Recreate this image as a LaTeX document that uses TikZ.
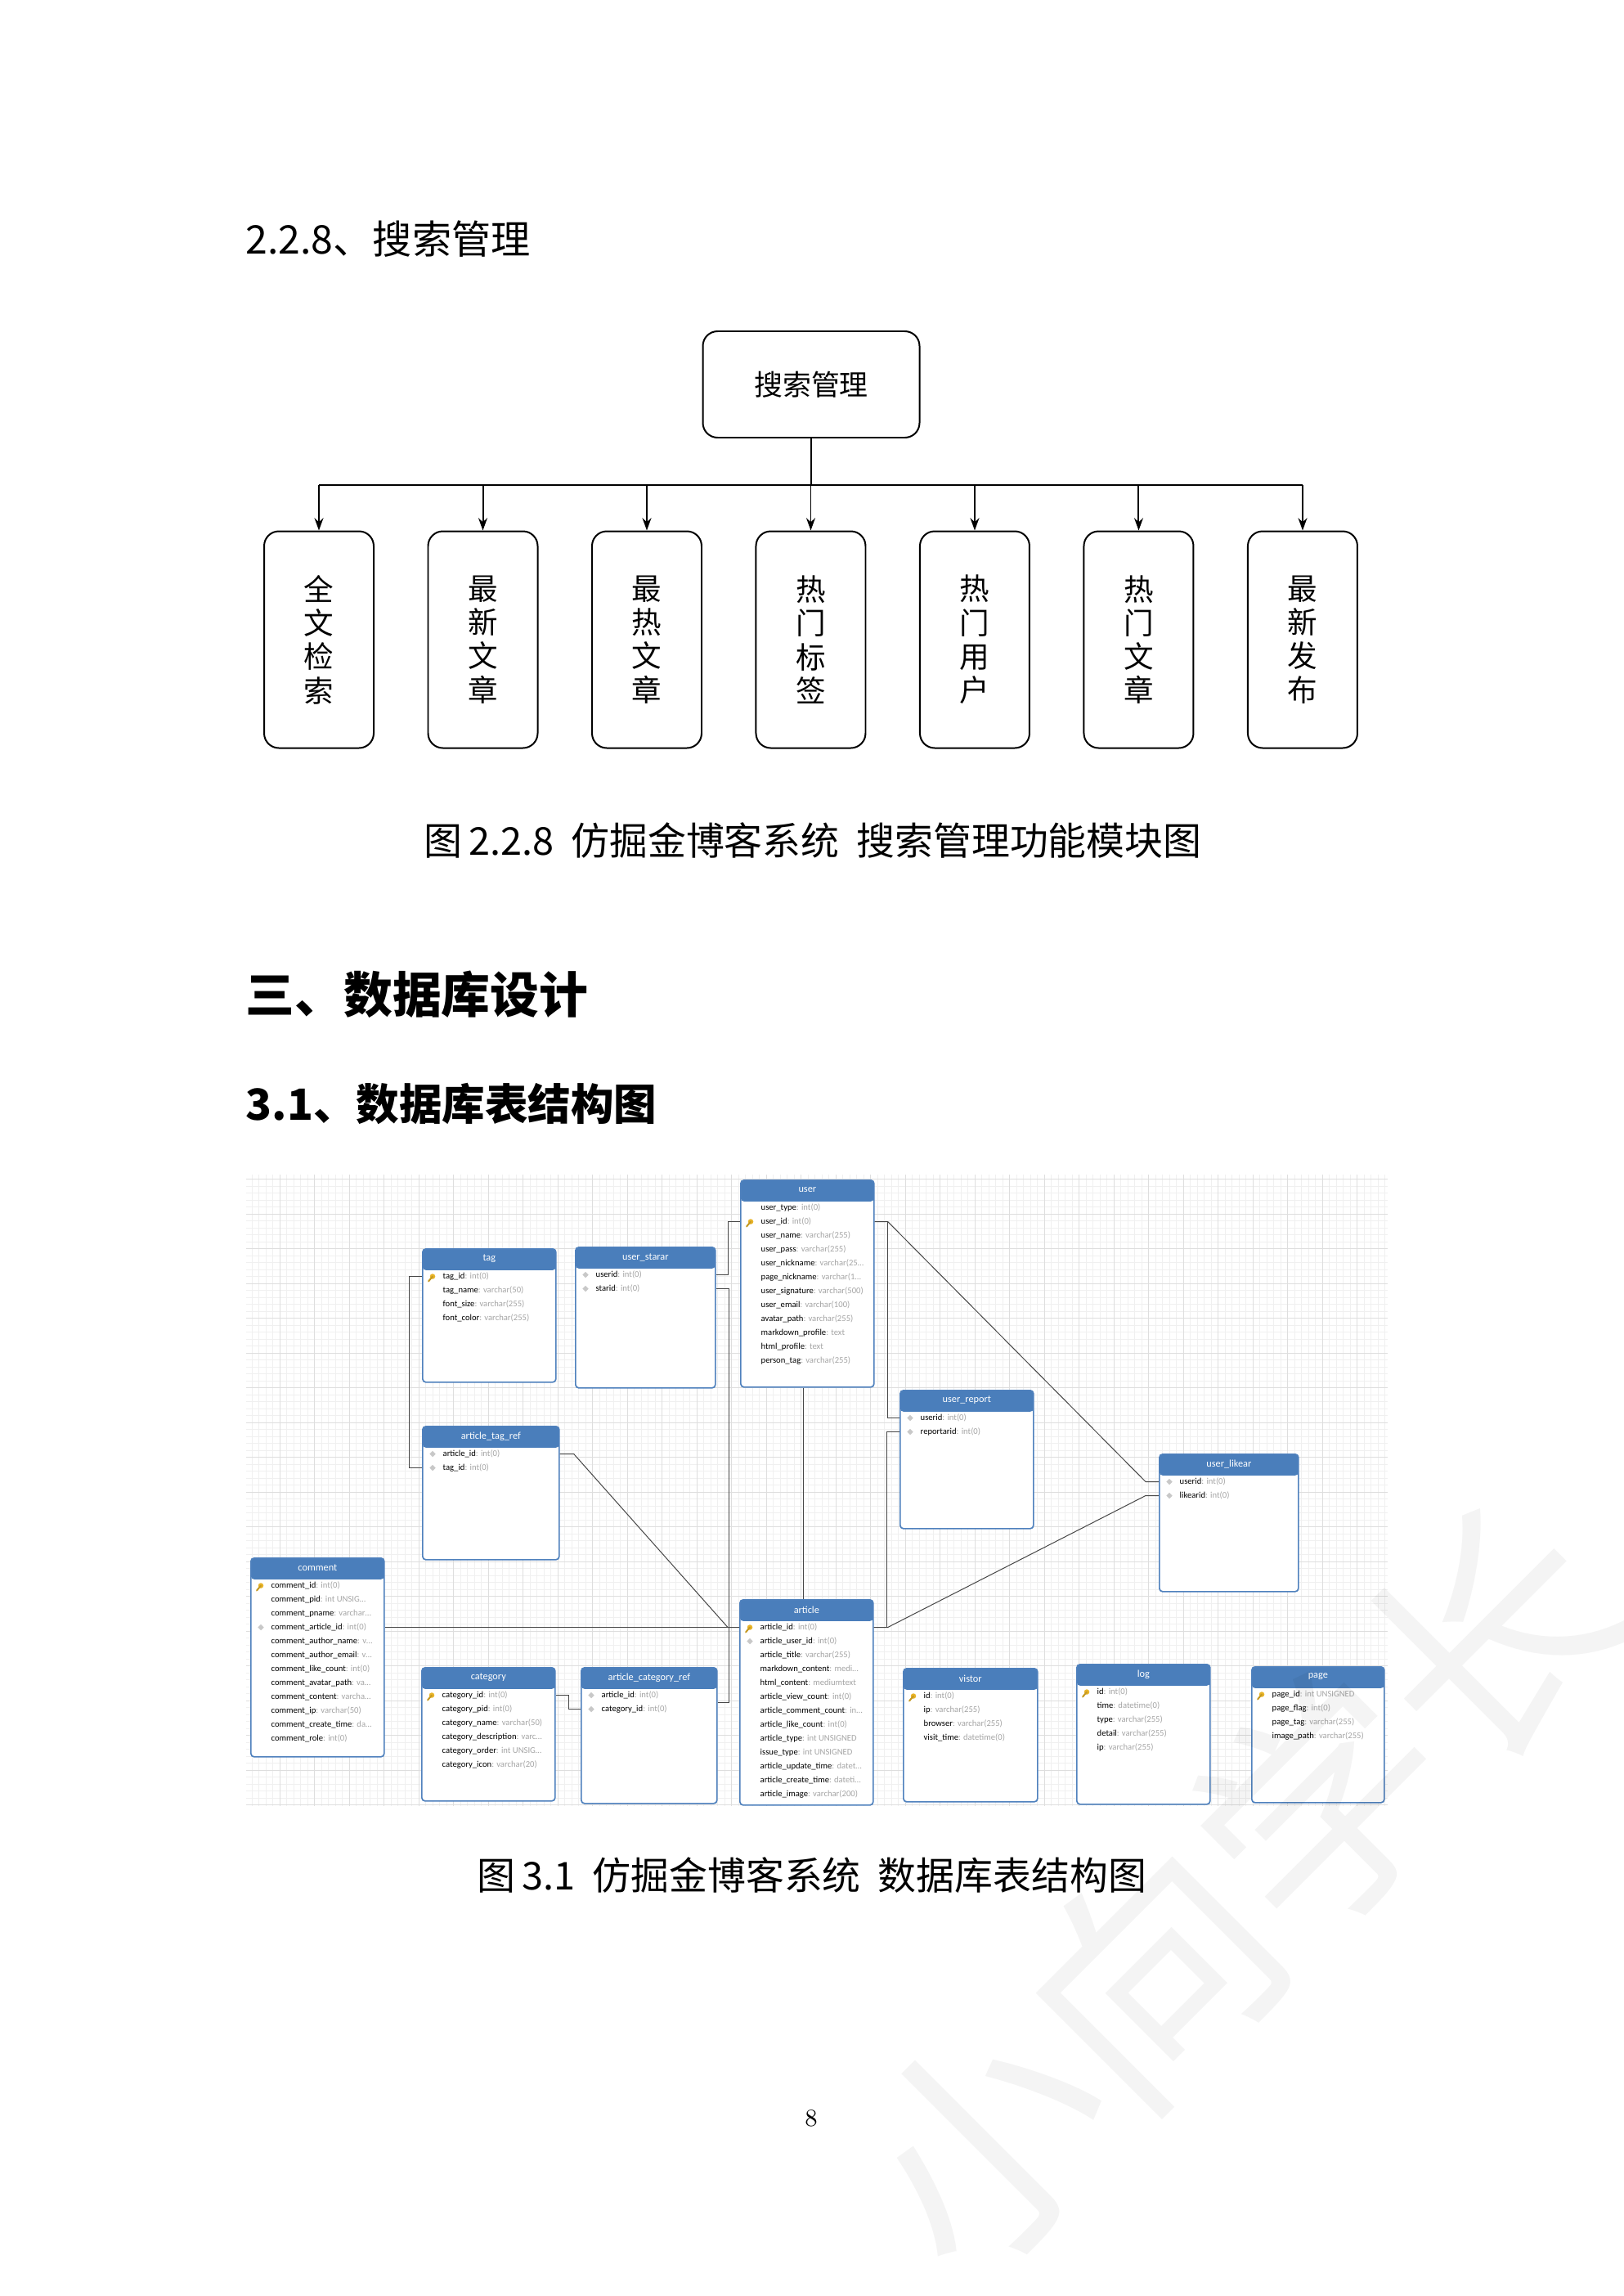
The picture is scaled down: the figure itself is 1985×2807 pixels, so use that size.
\documentclass[tikz,border=0pt]{standalone}
\usepackage{fontspec}
\newfontfamily\cjk{Noto Sans CJK SC}
\newfontfamily\tblfont{Carlito}
\usetikzlibrary{positioning}
\usetikzlibrary{arrows.meta}
\usetikzlibrary{shapes.geometric}
\usetikzlibrary{calc}
\newlength{\pxu}
\setlength{\pxu}{0.010579cm}
\definecolor{headblue}{RGB}{74,126,187}
\definecolor{tblblue}{RGB}{79,129,189}
\definecolor{typegray}{RGB}{165,165,165}
\definecolor{keygold}{RGB}{232,180,40}
\definecolor{diagray}{RGB}{200,200,200}
\definecolor{gridgray}{RGB}{222,222,222}
\definecolor{finegray}{RGB}{240,240,240}
\definecolor{relgray}{RGB}{70,70,70}
\newcommand{\ftype}[1]{\textcolor{typegray}{#1}}
\tikzset{
heading/.style={inner sep=0pt, anchor=west, font=\cjk\fontsize{14.5}{16}\selectfont},
heading_big/.style={inner sep=0pt, anchor=west, font=\cjk\bfseries\fontsize{18}{20}\selectfont},
heading_mid/.style={inner sep=0pt, anchor=west, font=\cjk\bfseries\fontsize{15.8}{18}\selectfont},
caption/.style={inner sep=0pt, font=\cjk\fontsize{14.1}{15}\selectfont},
root_box/.style={rectangle, rounded corners=18\pxu, draw, line width=0.6pt, minimum width=265\pxu, minimum height=130\pxu, font=\cjk\fontsize{10.5}{12}\selectfont},
leaf_box/.style={rectangle, rounded corners=18\pxu, draw, line width=0.6pt, minimum width=134\pxu, minimum height=265\pxu, align=center, inner sep=0pt, font=\cjk\fontsize{11}{12.4}\selectfont},
branch/.style={line width=0.6pt},
branch_arrow/.style={line width=0.6pt, -{Stealth[length=1.6mm, width=1.15mm]}},
table_box/.style={rectangle, anchor=north west, draw=tblblue, fill=white, line width=0.5pt, rounded corners=4\pxu, inner sep=0pt,
  path picture={\fill[headblue] (path picture bounding box.north west) rectangle ([yshift=-26\pxu]path picture bounding box.north east);}},
table_title/.style={text=white, inner sep=0pt, font=\tblfont\fontsize{3.7}{4.4}\selectfont},
row_text/.style={anchor=west, inner sep=0pt, font=\tblfont\fontsize{3.2}{3.8}\selectfont},
key_stem/.style={draw=keygold!85!black, line width=0.6pt, line cap=round},
ikey/.style={circle, fill=keygold, inner sep=0pt, minimum size=6.5\pxu,
  append after command={(\tikzlastnode.center) edge[key_stem] ([shift={(-5\pxu,-6\pxu)}]\tikzlastnode.center)}},
idia/.style={diamond, fill=diagray, inner sep=0pt, minimum size=8\pxu},
inone/.style={inner sep=0pt, minimum size=0pt},
rel/.style={draw=relgray, line width=0.3pt},
fine_grid/.style={draw=finegray, line width=0.2pt},
major_grid/.style={draw=gridgray, line width=0.3pt},
watermark/.style={font=\cjk\fontsize{88}{90}\selectfont, opacity=0.045, rotate=45}
}
% one table: id, left, top, width, height, title, rows (icon/field/type)
\newcommand{\dbtable}[7]{%
  \node[table_box, minimum width=#4\pxu, minimum height=#5\pxu] (#1) at (#2,#3) {};
  \node[table_title] (#1-t) at ([yshift=-13\pxu]#1.north) {#6};
  \foreach \ic/\fn/\ty [count=\i] in {#7} {
    \node[\ic] (#1-i\i) at ([xshift=13\pxu, yshift={-(34.5+17*(\i-1))*\pxu}]#1.north west) {};
    \node[row_text] (#1-\i) at ([xshift=25\pxu, yshift={-(34.5+17*(\i-1))*\pxu}]#1.north west) {\fn\ftype{: \ty}};
  }
}
\begin{document}
\begin{tikzpicture}[x=\pxu, y=-\pxu]
\useasboundingbox (0,0) rectangle (1985,2807);
\fill[white] (0,0) rectangle (1985,2807);

\node[heading] (h_228) at (300,292) {2.2.8、搜索管理};

% search module tree
\node[root_box] (search) at (992,470) {搜索管理};
\node[leaf_box] (leaf_1) at (390,782) {全\\文\\检\\索};
\node[leaf_box, right=64.5\pxu of leaf_1] (leaf_2) {最\\新\\文\\章};
\node[leaf_box, right=64.5\pxu of leaf_2] (leaf_3) {最\\热\\文\\章};
\node[leaf_box, right=64.5\pxu of leaf_3] (leaf_4) {热\\门\\标\\签};
\node[leaf_box, right=64.5\pxu of leaf_4] (leaf_5) {热\\门\\用\\户};
\node[leaf_box, right=64.5\pxu of leaf_5] (leaf_6) {热\\门\\文\\章};
\node[leaf_box, right=64.5\pxu of leaf_6] (leaf_7) {最\\新\\发\\布};
\coordinate (bus) at (992,593);
\draw[branch] (search.south) -- (bus);
\draw[branch] (leaf_1 |- bus) -- (leaf_7 |- bus);
\foreach \n in {1,...,7}
  \draw[branch_arrow] (leaf_\n |- bus) -- (leaf_\n.north);

\node[caption] (cap_1) at (994,1028) {图\,2.2.8\hspace{0.45em}仿掘金博客系统\hspace{0.45em}搜索管理功能模块图};

\node[heading_big] (h_3) at (300,1216) {三、数据库设计};
\node[heading_mid] (h_31) at (300,1350) {3.1、数据库表结构图};

% grid background of the table diagram
\foreach \gx in {308,316.5,...,1697} \draw[fine_grid] (\gx,1436) -- (\gx,2208);
\foreach \gy in {1441.5,1450,...,2208} \draw[fine_grid] (301,\gy) -- (1697,\gy);
\foreach \gx in {342,384.5,...,1697} \draw[major_grid] (\gx,1436) -- (\gx,2208);
\foreach \gy in {1441.5,1484,...,2208} \draw[major_grid] (301,\gy) -- (1697,\gy);

% tables
\dbtable{user}{905}{1442}{163}{253}{user}{inone/user\_type/int(0), ikey/user\_id/int(0), inone/user\_name/varchar(255), inone/user\_pass/varchar(255), inone/user\_nickname/varchar(25\dots, inone/page\_nickname/varchar(1\dots, inone/user\_signature/varchar(500), inone/user\_email/varchar(100), inone/avatar\_path/varchar(255), inone/markdown\_profile/text, inone/html\_profile/text, inone/person\_tag/varchar(255)}
\dbtable{tag}{516}{1526}{163}{163}{tag}{ikey/tag\_id/int(0), inone/tag\_name/varchar(50), inone/font\_size/varchar(255), inone/font\_color/varchar(255)}
\dbtable{us}{703}{1524}{171}{172}{user\_starar}{idia/userid/int(0), idia/starid/int(0)}
\dbtable{atr}{516}{1743}{167}{163}{article\_tag\_ref}{idia/article\_id/int(0), idia/tag\_id/int(0)}
\dbtable{ur}{1100}{1699}{163}{169}{user\_report}{idia/userid/int(0), idia/reportarid/int(0)}
\dbtable{ul}{1417}{1777}{170}{168}{user\_likear}{idia/userid/int(0), idia/likearid/int(0)}
\dbtable{comment}{306}{1904}{163}{243}{comment}{ikey/comment\_id/int(0), inone/comment\_pid/int UNSIG\dots, inone/comment\_pname/varchar\dots, idia/comment\_article\_id/int(0), inone/comment\_author\_name/v\dots, inone/comment\_author\_email/v\dots, inone/comment\_like\_count/int(0), inone/comment\_avatar\_path/va\dots, inone/comment\_content/varcha\dots, inone/comment\_ip/varchar(50), inone/comment\_create\_time/da\dots, inone/comment\_role/int(0)}
\dbtable{cat}{515}{2038}{163}{163}{category}{ikey/category\_id/int(0), inone/category\_pid/int(0), inone/category\_name/varchar(50), inone/category\_description/varc\dots, inone/category\_order/int UNSIG\dots, inone/category\_icon/varchar(20)}
\dbtable{acr}{710}{2038}{166}{166}{article\_category\_ref}{idia/article\_id/int(0), idia/category\_id/int(0)}
\dbtable{article}{904}{1955}{163}{251}{article}{ikey/article\_id/int(0), idia/article\_user\_id/int(0), inone/article\_title/varchar(255), inone/markdown\_content/medi\dots, inone/html\_content/mediumtext, inone/article\_view\_count/int(0), inone/article\_comment\_count/in\dots, inone/article\_like\_count/int(0), inone/article\_type/int UNSIGNED, inone/issue\_type/int UNSIGNED, inone/article\_update\_time/datet\dots, inone/article\_create\_time/dateti\dots, inone/article\_image/varchar(200)}
\dbtable{vis}{1104}{2039}{164}{163}{vistor}{ikey/id/int(0), inone/ip/varchar(255), inone/browser/varchar(255), inone/visit\_time/datetime(0)}
\dbtable{log}{1316}{2034}{163}{171}{log}{ikey/id/int(0), inone/time/datetime(0), inone/type/varchar(255), inone/detail/varchar(255), inone/ip/varchar(255)}
\dbtable{page}{1530}{2037}{162}{166}{page}{ikey/page\_id/int UNSIGNED, inone/page\_flag/int(0), inone/page\_tag/varchar(255), inone/image\_path/varchar(255)}

% relations
\draw[rel] (tag.west |- tag-1) -- ++(-16,0) |- (atr.west |- atr-2);
\draw[rel] (us.east |- us-1) -- ++(15,0) |- (user.west |- user-2);
\draw[rel] (us.east |- us-2) -- ++(16,0) |- (article.west |- article-1);
\draw[rel] ($(acr.east |- acr-1)!.5!(acr.east |- acr-2)$) -- ++(14,0) |- (article.west |- article-1);
\draw[rel] (cat.east |- cat-1) -- ++(16,0) |- (acr.west |- acr-2);
\draw[rel] (comment.east |- comment-4) -- (article.west |- article-1);
\draw[rel] (atr.east |- atr-1) -- ++(17,0) -- ($(article.west |- article-1)+(-14,0)$) -- (article.west |- article-1);
\draw[rel] ([xshift=-5\pxu]user.south) -- ([xshift=-5\pxu]user.south |- article.north);
\draw[rel] (user.east |- user-2) -- ++(16,0) |- (ur.west |- ur-1);
\draw[rel] (user.east |- user-2) -- ++(16,0) -- ($(ul.west |- ul-1)+(-16,0)$) -- (ul.west |- ul-1);
\draw[rel] (ur.west |- ur-2) -- ++(-16,0) |- (article.east |- article-1);
\draw[rel] (article.east |- article-1) -- ++(17,0) -- ($(ul.west |- ul-2)+(-16,0)$) -- (ul.west |- ul-2);

\node[caption] (cap_2) at (993,2293) {图\,3.1\hspace{0.45em}仿掘金博客系统\hspace{0.45em}数据库表结构图};

\node[font=\fontsize{9}{10}\selectfont] (page_no) at (992,2590) {8};

\node[watermark] (wm) at (1512,2309) {小向学长};
\end{tikzpicture}
\end{document}
